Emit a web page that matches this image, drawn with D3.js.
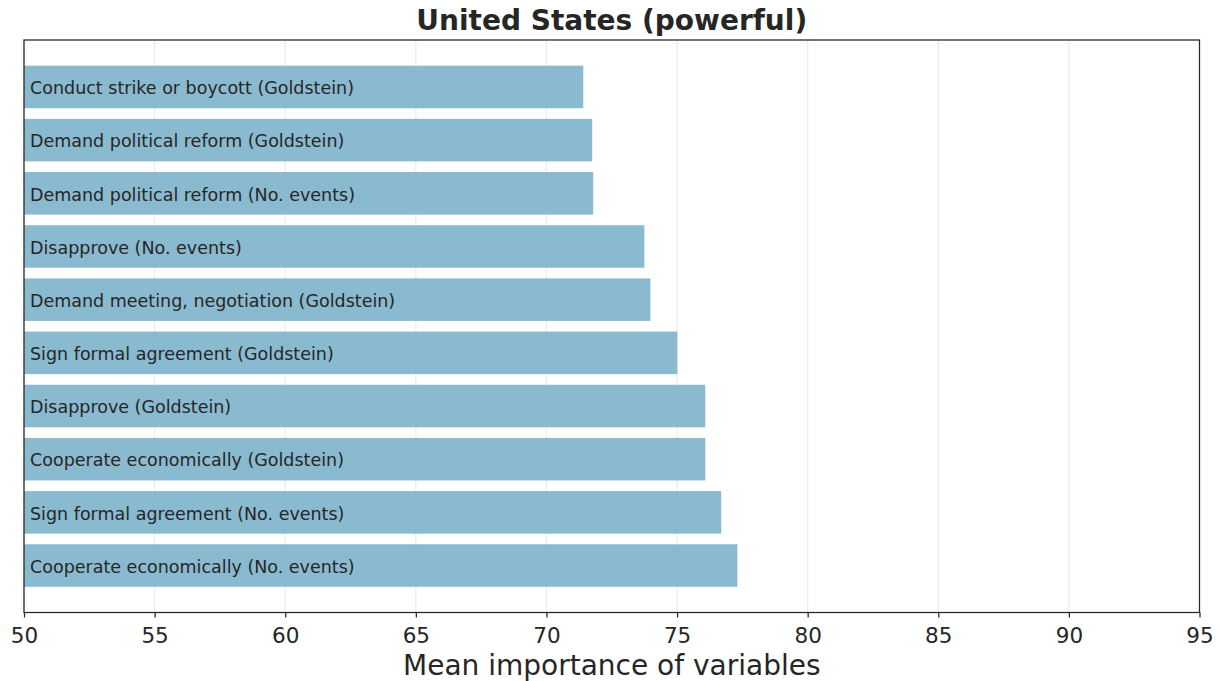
<!DOCTYPE html>
<html>
<head>
<meta charset="utf-8">
<script src="https://cdn.jsdelivr.net/npm/d3@7"></script>
<style>
  html, body { margin: 0; padding: 0; background: #fff; }
  svg { display: block; }
</style>
</head>
<body>
<svg id="chart" width="1220" height="681"></svg>
<script>
const categories = [
  "Conduct strike or boycott (Goldstein)",
  "Demand political reform (Goldstein)",
  "Demand political reform (No. events)",
  "Disapprove (No. events)",
  "Demand meeting, negotiation (Goldstein)",
  "Sign formal agreement (Goldstein)",
  "Disapprove (Goldstein)",
  "Cooperate economically (Goldstein)",
  "Sign formal agreement (No. events)",
  "Cooperate economically (No. events)"
];
const values = [71.41, 71.75, 71.79, 73.75, 73.98, 75.01, 76.08, 76.08, 76.69, 77.31];
const xTicks = [50, 55, 60, 65, 70, 75, 80, 85, 90, 95];
const title = "United States (powerful)";
const xLabel = "Mean importance of variables";

(function () {
const svg = d3.select("#chart");
const mLeft = 24, mRight = 1199.5, mTop = 40, mBottom = 612.5;
const font = "'DejaVu Sans', sans-serif";
const ink = "#262626";

const x = d3.scaleLinear().domain([50, 95]).range([mLeft, mRight]);
const y = d3.scaleBand().domain(categories).range([mTop, mBottom])
  .paddingInner(0.2).paddingOuter(0.483);

// grid
svg.append("g").selectAll("line").data(xTicks).join("line")
  .attr("x1", d => x(d)).attr("x2", d => x(d))
  .attr("y1", mTop).attr("y2", mBottom)
  .attr("stroke", "#ebebeb").attr("stroke-width", 1.2);

// bars
svg.append("g").selectAll("rect").data(categories).join("rect")
  .attr("x", x(50))
  .attr("y", d => y(d))
  .attr("width", (d, i) => x(values[i]) - x(50))
  .attr("height", y.bandwidth())
  .attr("fill", "rgb(125,179,203)")
  .attr("fill-opacity", 0.9);

// bar labels
svg.append("g").selectAll("text").data(categories).join("text")
  .attr("x", mLeft + 6)
  .attr("y", d => y(d) + y.bandwidth() / 2 + 1)
  .attr("dy", "0.36em")
  .style("font-family", font)
  .attr("font-size", 17.5)
  .attr("fill", ink)
  .text(d => d);

// frame
svg.append("rect")
  .attr("x", mLeft).attr("y", mTop)
  .attr("width", mRight - mLeft).attr("height", mBottom - mTop)
  .attr("fill", "none").attr("stroke", ink).attr("stroke-width", 1.25);

// x axis
const xAxis = d3.axisBottom(x).tickValues(xTicks).tickFormat(d3.format("d"))
  .tickSize(5).tickPadding(10);
const gx = svg.append("g").attr("transform", `translate(0,${mBottom})`).call(xAxis);
gx.select(".domain").remove();
gx.selectAll(".tick line").attr("stroke", ink).attr("stroke-width", 1.25);
gx.selectAll(".tick text").style("font-family", font).attr("font-size", 21.5).attr("fill", ink);

// axis label
svg.append("text")
  .attr("x", (mLeft + mRight) / 2).attr("y", 675)
  .attr("text-anchor", "middle")
  .style("font-family", font).attr("font-size", 28).attr("fill", ink)
  .text(xLabel);

// title
svg.append("text")
  .attr("x", (mLeft + mRight) / 2).attr("y", 30)
  .attr("text-anchor", "middle")
  .style("font-family", font).attr("font-weight", "bold").attr("font-size", 28).attr("fill", ink)
  .text(title);
})();
</script>
</body>
</html>
